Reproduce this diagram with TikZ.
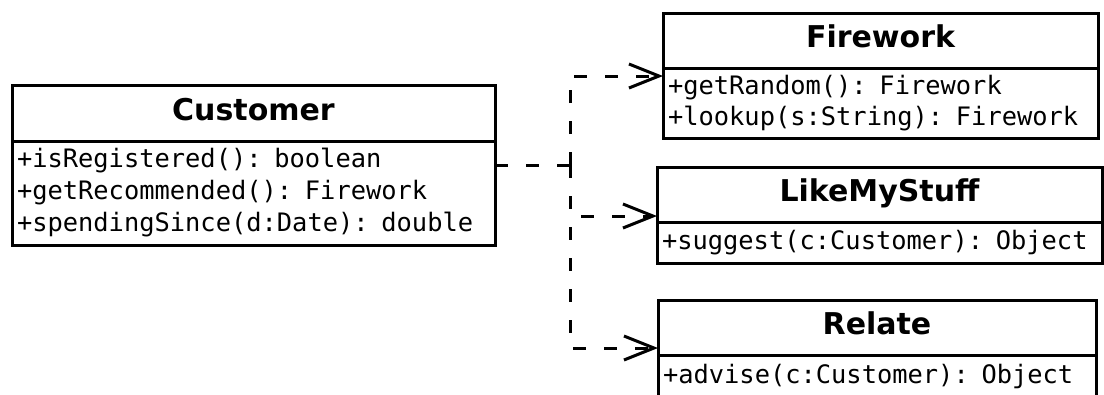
\documentclass[tikz,border=0pt]{standalone}
\usepackage{fontspec}
\newfontfamily\umlsans{DejaVu Sans}
\newfontfamily\umlmono{DejaVu Sans Mono}
\usetikzlibrary{arrows.meta}
\begin{document}
\begin{tikzpicture}[x=1pt,y=-1pt,
  classtitle/.style={draw, line width=3pt, anchor=north west, inner sep=0pt, outer sep=0pt,
    minimum height=55pt, text height=22pt, text depth=8pt,
    font=\umlsans\bfseries\fontsize{30}{36}\selectfont},
  classbody/.style={draw, line width=3pt, anchor=north west, inner xsep=5pt, inner ysep=0pt,
    outer sep=0pt, align=left, font=\umlmono\fontsize{25.4}{32}\selectfont},
  dep/.style={line width=3pt, dash pattern=on 13pt off 18pt},
  deparrow/.style={dep, -{Straight Barb[length=30pt,width=24pt]}}
]
\useasboundingbox (0,0) rectangle (1104,394);

% Customer
\node[classtitle, minimum width=483pt, minimum height=56pt] (cust) at (12,85) {Customer};
\node[classbody, text width=473pt, minimum height=104pt] (custb) at (cust.south west)
  {+isRegistered(): boolean\\+getRecommended(): Firework\\+spendingSince(d:Date): double};

% Firework
\node[classtitle, minimum width=435pt] (fw) at (663,13) {Firework};
\node[classbody, text width=425pt, minimum height=70pt,
  font=\umlmono\fontsize{25.4}{30.5}\selectfont] (fwb) at (fw.south west)
  {+getRandom(): Firework\\+lookup(s:String): Firework};

% LikeMyStuff
\node[classtitle, minimum width=445pt] (lms) at (657,167) {LikeMyStuff};
\node[classbody, text width=435pt, minimum height=41pt] (lmsb) at (lms.south west)
  {+suggest(c:Customer): Object};

% Relate
\node[classtitle, minimum width=438pt] (rel) at (658,300) {Relate};
\node[classbody, text width=428pt, minimum height=43pt] (relb) at (rel.south west)
  {+advise(c:Customer): Object};

% connectors
\coordinate (j) at (570,165);
\coordinate (fwt) at ([yshift=-8pt]fw.south west);
\coordinate (lmst) at ([yshift=6pt]lms.south west);
\coordinate (relt) at ([yshift=7pt]rel.south west);
\draw[dep] (custb.east |- j) -- (j);
\draw[deparrow] (j) |- (fwt);
\draw[deparrow] (j) |- (lmst);
\draw[deparrow] (j) |- (relt);
\end{tikzpicture}
\end{document}
